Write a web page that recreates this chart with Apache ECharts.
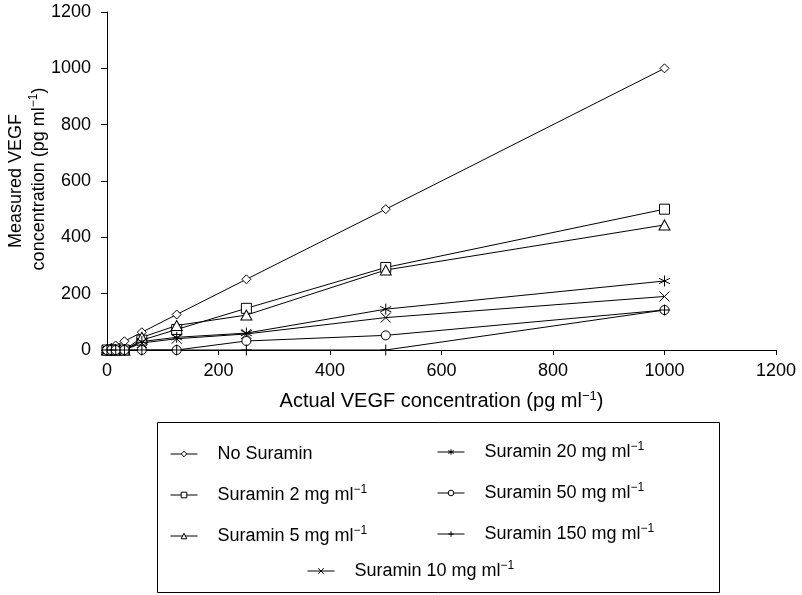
<!DOCTYPE html>
<html>
<head>
<meta charset="utf-8">
<script src="https://cdn.jsdelivr.net/npm/echarts@6/dist/echarts.min.js"></script>
<style>
html,body{margin:0;padding:0;background:#fff;}
#chart{width:802px;height:595px;}
</style>
</head>
<body>
<div id="chart"></div>
<script>
// ---- data ----
const xValues    = [0, 7.8, 15.6, 31.25, 62.5, 125, 250, 500, 1000];
const noSuramin  = [0, 8, 16, 31, 63, 126, 251, 500, 1000];
const suramin2   = [0, 0, 0, 0, 35, 73, 148, 293, 500];
const suramin5   = [0, 0, 0, 0, 45, 87, 124, 284, 444];
const suramin10  = [0, 0, 0, 0, 25, 40, 57, 115, 190];
const suramin20  = [0, 0, 0, 0, 30, 45, 60, 145, 245];
const suramin50  = [0, 0, 0, 0, 0, 0, 32, 52, 142];
const suramin150 = [0, 0, 0, 0, 0, 0, 0, 0, 142];
const axisTicks  = [0, 200, 400, 600, 800, 1000, 1200];

const seriesNames = ['No Suramin', 'Suramin 2 mg ml', 'Suramin 5 mg ml', 'Suramin 10 mg ml',
                     'Suramin 20 mg ml', 'Suramin 50 mg ml', 'Suramin 150 mg ml'];
const seriesValues = [noSuramin, suramin2, suramin5, suramin10, suramin20, suramin50, suramin150];

const FONT = "'Liberation Sans', Arial, sans-serif";
const symbols = [
  ['path://M5,0L10,5L5,10L0,5Z', 9],
  ['path://M0,0L10,0L10,10L0,10Z', 10],
  ['path://M5,0L10,9L0,9Z', [11, 10]],
  ['path://M0,0L10,10M10,0L0,10', 10],
  ['path://M5,0L5,10M0.7,2.5L9.3,7.5M9.3,2.5L0.7,7.5', 11],
  ['path://M0,5A5,5,0,1,1,10,5A5,5,0,1,1,0,5Z', 9],
  ['path://M5,0L5,10M0,5L10,5', 11]
];

function pairs(ys) { return xValues.map((x, i) => [x, ys[i]]); }

const series = seriesNames.map((name, i) => ({
  name: name,
  type: 'line',
  data: pairs(seriesValues[i]),
  symbol: symbols[i][0],
  symbolSize: symbols[i][1],
  showAllSymbol: true,
  clip: false,
  lineStyle: { color: '#000', width: 1 },
  itemStyle: { color: '#fff', borderColor: '#000', borderWidth: 1 },
  emphasis: { disabled: true }
}));

const rich = {
  t: { fontSize: 18, fontFamily: FONT, color: '#000', lineHeight: 22, padding: [0, 0, 0, 15] },
  s: { fontSize: 12, fontFamily: FONT, color: '#000', verticalAlign: 'top', lineHeight: 12 }
};
function legendFmt(name) {
  if (name === 'No Suramin') return '{t|' + name + '}';
  return '{t|' + name + '}{s|\u22121}';
}
function mkLegend(names, left, top) {
  return {
    data: names, orient: 'vertical', left: left, top: top,
    itemWidth: 27, itemHeight: 7, itemGap: 21, selectedMode: false,
    formatter: legendFmt,
    itemStyle: { color: '#fff', borderColor: '#000', borderWidth: 1 },
    lineStyle: { color: '#000', width: 1 },
    textStyle: { rich: rich, color: '#000' }
  };
}
function plainNum(v) { return String(v); }

const chart = echarts.init(document.getElementById('chart'), null, { renderer: 'canvas' });
chart.setOption({
  animation: false,
  backgroundColor: '#fff',
  grid: { left: 107, right: 26, top: 12, bottom: 245, containLabel: false },
  xAxis: {
    type: 'value', min: axisTicks[0], max: axisTicks[axisTicks.length - 1], interval: 200,
    name: '{n|Actual VEGF concentration (pg ml}{s|\u22121}{n|)}',
    nameLocation: 'middle', nameGap: 40,
    nameTextStyle: { rich: { n: { fontSize: 20, fontFamily: FONT, color: '#000', lineHeight: 22 },
                             s: { fontSize: 13, fontFamily: FONT, color: '#000', verticalAlign: 'top', lineHeight: 12 } } },
    axisLine: { show: true, lineStyle: { color: '#000', width: 1 } },
    axisTick: { show: true, length: 5, lineStyle: { color: '#000' } },
    axisLabel: { fontSize: 18, fontFamily: FONT, color: '#000', margin: 12, formatter: plainNum },
    splitLine: { show: false }
  },
  yAxis: {
    type: 'value', min: axisTicks[0], max: axisTicks[axisTicks.length - 1], interval: 200,
    axisLine: { show: true, lineStyle: { color: '#000', width: 1 } },
    axisTick: { show: true, length: 6, lineStyle: { color: '#000' } },
    axisLabel: { fontSize: 18, fontFamily: FONT, color: '#000', margin: 16, formatter: plainNum },
    splitLine: { show: false }
  },
  legend: [
    mkLegend([seriesNames[0], seriesNames[1], seriesNames[2]], 165, 440),
    mkLegend([seriesNames[4], seriesNames[5], seriesNames[6]], 432, 436),
    mkLegend([seriesNames[3]], 302, 555)
  ],
  graphic: [
    { type: 'rect', shape: { x: 157.5, y: 422.5, width: 562, height: 170 },
      style: { fill: 'none', stroke: '#000', lineWidth: 1 }, z: -1 },
    { type: 'text', x: 16, y: 181, rotation: Math.PI / 2,
      style: { text: 'Measured VEGF', font: '18px ' + FONT, fill: '#000', align: 'center', verticalAlign: 'middle' } },
    { type: 'text', x: 39, y: 179, rotation: Math.PI / 2,
      style: { text: '{n|concentration (pg ml}{s|\u22121}{n|)}', align: 'center', verticalAlign: 'middle',
               rich: { n: { fontSize: 18, fontFamily: FONT, fill: '#000', lineHeight: 22 },
                       s: { fontSize: 12, fontFamily: FONT, fill: '#000', verticalAlign: 'top', lineHeight: 12 } } } }
  ],
  series: series
});
</script>
</body>
</html>
